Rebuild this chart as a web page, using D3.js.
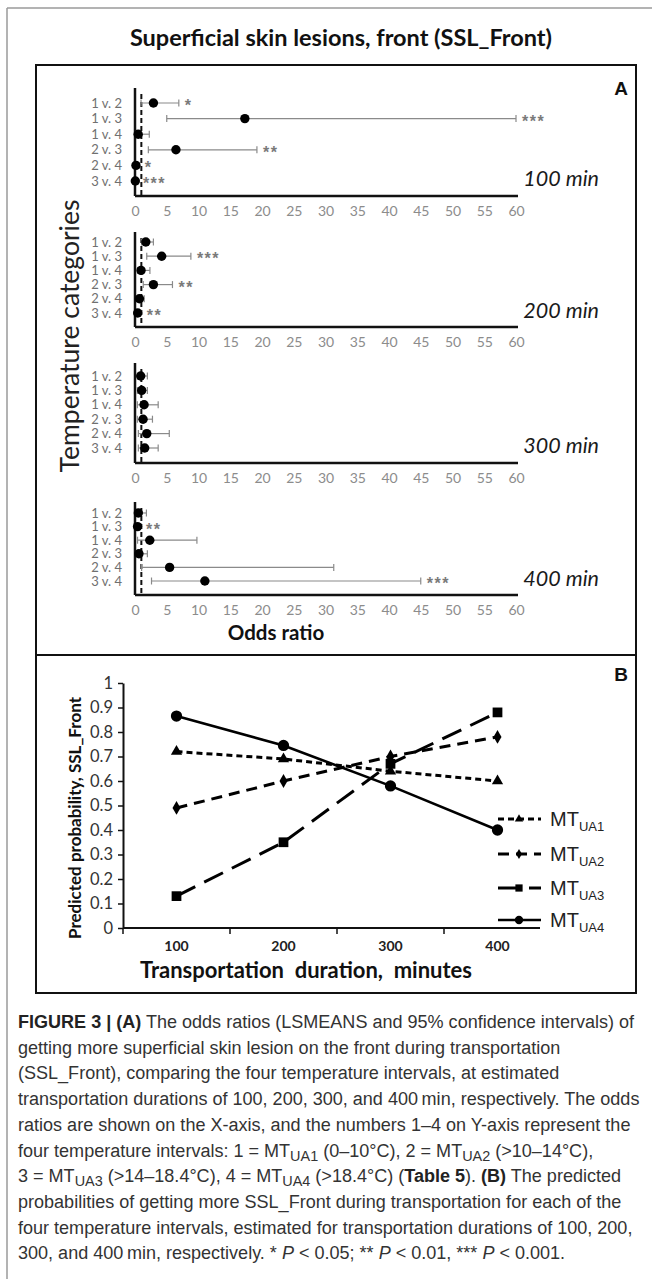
<!DOCTYPE html>
<html>
<head>
<meta charset="utf-8">
<script src="https://cdn.jsdelivr.net/npm/d3@7"></script>
<style>
  body { margin: 0; background: #fff; }
  svg { display: block; }
</style>
</head>
<body>
<div id="chart"></div>
<script>
// ---- panel A: odds ratios with 95% CI, per transportation duration ----
const comparisons = ['1 v. 2', '1 v. 3', '1 v. 4', '2 v. 3', '2 v. 4', '3 v. 4'];
const durations = ['100 min', '200 min', '300 min', '400 min'];
const oddsTicks = [0, 5, 10, 15, 20, 25, 30, 35, 40, 45, 50, 55, 60];

const or100  = [2.9, 17.3, 0.5, 6.45, 0.15, 0.05];
const lo100  = [0.95, 5.0, 0.15, 2.1, 0.05, 0.02];
const hi100  = [6.9, 60.0, 2.25, 19.2, 0.6, 0.3];
const sig100 = ['*', '***', '', '**', '*', '***'];

const or200  = [1.7, 4.2, 0.95, 2.9, 0.7, 0.42];
const lo200  = [1.05, 1.85, 0.4, 1.3, 0.25, 0.15];
const hi200  = [2.9, 8.8, 2.35, 5.9, 1.45, 0.9];
const sig200 = ['', '***', '', '**', '', '**'];

const or300  = [0.9, 1.05, 1.43, 1.27, 1.85, 1.53];
const lo300  = [0.37, 0.37, 0.37, 0.37, 0.53, 0.53];
const hi300  = [1.95, 1.95, 3.65, 2.75, 5.4, 3.65];
const sig300 = ['', '', '', '', '', ''];

const or400  = [0.52, 0.4, 2.33, 0.62, 5.45, 11.0];
const lo400  = [0.2, 0.1, 0.4, 0.25, 1.04, 2.6];
const hi400  = [1.8, 0.8, 9.75, 1.95, 31.3, 45.0];
const sig400 = ['', '**', '', '', '', '***'];

// ---- panel B: predicted probabilities ----
const minutes = ['100', '200', '300', '400'];
const probTicks = [0, 0.1, 0.2, 0.3, 0.4, 0.5, 0.6, 0.7, 0.8, 0.9, 1];
const seriesNames = ['UA1', 'UA2', 'UA3', 'UA4'];
const probUA1 = [0.72, 0.69, 0.64, 0.60];
const probUA2 = [0.49, 0.60, 0.70, 0.78];
const probUA3 = [0.13, 0.35, 0.67, 0.88];
const probUA4 = [0.865, 0.745, 0.58, 0.40];

const W = 652, H = 1279;
const CAL = "Lato, 'Open Sans', sans-serif";
const ARIAL = "'Liberation Sans', Arial, sans-serif";

const svg = d3.select('#chart').append('svg')
  .attr('width', W).attr('height', H);

// outer gray frame (top + left)
svg.append('line').attr('x1', 7).attr('x2', W).attr('y1', 8).attr('y2', 8)
  .attr('stroke', '#9a9a9a').attr('stroke-width', 1.5);
svg.append('line').attr('x1', 7).attr('x2', 7).attr('y1', 8).attr('y2', H)
  .attr('stroke', '#9a9a9a').attr('stroke-width', 1.5);

svg.append('text')
  .attr('x', 341).attr('y', 46)
  .attr('text-anchor', 'middle')
  .attr('font-family', CAL).attr('font-weight', 700).attr('font-size', 23.5)
  .attr('fill', '#111')
  .text('Superficial skin lesions, front (SSL_Front)');

// panel boxes
svg.append('rect').attr('x', 36).attr('y', 65).attr('width', 600).attr('height', 590)
  .attr('fill', 'none').attr('stroke', '#111').attr('stroke-width', 2);
svg.append('rect').attr('x', 36).attr('y', 655).attr('width', 600).attr('height', 338)
  .attr('fill', 'none').attr('stroke', '#111').attr('stroke-width', 2);

svg.append('text').attr('x', 628).attr('y', 95).attr('text-anchor', 'end')
  .attr('font-family', ARIAL).attr('font-weight', 700).attr('font-size', 19)
  .attr('fill', '#111').text('A');
svg.append('text').attr('x', 628).attr('y', 681).attr('text-anchor', 'end')
  .attr('font-family', ARIAL).attr('font-weight', 700).attr('font-size', 19)
  .attr('fill', '#111').text('B');

// ---------------- panel A ----------------
const x = d3.scaleLinear().domain([0, 60]).range([135, 516]);

const blocks = [
  { label: durations[0], or: or100, lo: lo100, hi: hi100, sig: sig100, top: 88,  r0: 103, r1: 181, bottom: 196 },
  { label: durations[1], or: or200, lo: lo200, hi: hi200, sig: sig200, top: 232, r0: 242, r1: 313, bottom: 327 },
  { label: durations[2], or: or300, lo: lo300, hi: hi300, sig: sig300, top: 363, r0: 376, r1: 448, bottom: 463 },
  { label: durations[3], or: or400, lo: lo400, hi: hi400, sig: sig400, top: 502, r0: 513, r1: 581, bottom: 595 },
];

blocks.forEach(b => {
  const y = d3.scalePoint().domain(comparisons).range([b.r0, b.r1]);
  const g = svg.append('g');

  // x axis: tick labels only, domain as the thick baseline
  const xa = g.append('g')
    .attr('transform', `translate(0,${b.bottom})`)
    .call(d3.axisBottom(x).tickValues(oddsTicks).tickSize(0).tickPadding(10));
  xa.select('.domain').attr('stroke', '#111').attr('stroke-width', 2.5)
    .attr('d', `M${x(0)},0H${x(60) + 2}`);
  xa.selectAll('text').attr('font-family', CAL).attr('font-size', 14).attr('fill', '#8c8c8c');

  // y axis: category labels
  const ya = g.append('g')
    .attr('transform', `translate(${x(0)},0)`)
    .call(d3.axisLeft(y).tickSize(0).tickPadding(13));
  ya.select('.domain').remove();
  ya.selectAll('text').attr('font-family', CAL).attr('font-size', 13).attr('fill', '#707070');
  g.append('line').attr('x1', x(0)).attr('x2', x(0)).attr('y1', b.top).attr('y2', b.bottom)
    .attr('stroke', '#111').attr('stroke-width', 2.5);

  // reference line at OR = 1
  g.append('line').attr('x1', x(1)).attr('x2', x(1)).attr('y1', b.top + 6).attr('y2', b.bottom)
    .attr('stroke', '#111').attr('stroke-width', 2).attr('stroke-dasharray', '5,3');

  const rows = comparisons.map((c, i) => ({ c, or: b.or[i], lo: b.lo[i], hi: b.hi[i], sig: b.sig[i] }));

  g.selectAll('.ci').data(rows).join('line')
    .attr('x1', d => x(d.lo)).attr('x2', d => x(d.hi))
    .attr('y1', d => y(d.c)).attr('y2', d => y(d.c))
    .attr('stroke', '#8a8a8a').attr('stroke-width', 1.2);
  ['lo', 'hi'].forEach(k => {
    g.selectAll('.cap-' + k).data(rows).join('line')
      .attr('x1', d => x(d[k])).attr('x2', d => x(d[k]))
      .attr('y1', d => y(d.c) - 3.5).attr('y2', d => y(d.c) + 3.5)
      .attr('stroke', '#8a8a8a').attr('stroke-width', 1.2);
  });
  g.selectAll('.pt').data(rows).join('circle')
    .attr('cx', d => x(d.or)).attr('cy', d => y(d.c)).attr('r', 4.7)
    .attr('fill', '#000');
  g.selectAll('.sig').data(rows).join('text')
    .attr('x', d => x(d.hi) + 6).attr('y', d => y(d.c) + 8)
    .attr('font-family', ARIAL).attr('font-weight', 700).attr('font-size', 16)
    .attr('letter-spacing', 1.5).attr('fill', '#7a7a7a')
    .text(d => d.sig);

  g.append('text').attr('x', 599).attr('y', b.r1 + 5).attr('text-anchor', 'end')
    .attr('font-family', CAL).attr('font-style', 'italic').attr('font-size', 21.5)
    .attr('fill', '#1a1a1a').text(b.label);
});

svg.append('text')
  .attr('transform', 'translate(79,336) rotate(-90)')
  .attr('text-anchor', 'middle')
  .attr('font-family', CAL).attr('font-size', 26.5).attr('fill', '#222')
  .text('Temperature categories');

svg.append('text').attr('x', 276).attr('y', 640).attr('text-anchor', 'middle')
  .attr('font-family', CAL).attr('font-weight', 700).attr('font-size', 20.5)
  .attr('fill', '#111').text('Odds ratio');

// ---------------- panel B ----------------
const xb = d3.scaleBand().domain(minutes).range([123, 551]);
const yb = d3.scaleLinear().domain([0, 1]).range([928, 683]);

const gy = svg.append('g').attr('transform', 'translate(123,0)')
  .call(d3.axisLeft(yb).tickValues(probTicks).tickSize(5).tickSizeOuter(0).tickPadding(5)
    .tickFormat(d3.format('.1~f')));
gy.select('.domain').attr('stroke', '#111').attr('stroke-width', 2);
gy.selectAll('.tick line').attr('stroke', '#111').attr('stroke-width', 1.5);
gy.selectAll('text').attr('font-family', CAL).attr('font-size', 16.5).attr('fill', '#333');

const gx = svg.append('g').attr('transform', 'translate(0,928)')
  .call(d3.axisBottom(xb).tickSize(0).tickPadding(13));
gx.select('.domain').remove();
gx.selectAll('text').attr('font-family', CAL).attr('font-weight', 700)
  .attr('font-size', 14).attr('fill', '#222');
svg.append('line').attr('x1', 123).attr('x2', 540).attr('y1', 928).attr('y2', 928)
  .attr('stroke', '#111').attr('stroke-width', 2);
svg.selectAll('.bt').data(minutes).join('line')
  .attr('x1', d => xb(d)).attr('x2', d => xb(d))
  .attr('y1', 928).attr('y2', 934)
  .attr('stroke', '#111').attr('stroke-width', 1.5);

svg.append('text')
  .attr('transform', 'translate(81,818) rotate(-90)')
  .attr('text-anchor', 'middle')
  .attr('font-family', CAL).attr('font-weight', 700).attr('font-size', 17)
  .attr('fill', '#111').text('Predicted probability, SSL_Front');

svg.append('text').attr('x', 306).attr('y', 978).attr('text-anchor', 'middle')
  .attr('font-family', CAL).attr('font-weight', 700).attr('font-size', 22)
  .attr('fill', '#111').attr('xml:space', 'preserve')
  .text('Transportation  duration,  minutes');

const series = [
  { name: seriesNames[0], values: probUA1, dash: '6,4',   width: 3,   symbol: d3.symbolTriangle, size: 55 },
  { name: seriesNames[1], values: probUA2, dash: '11,7',  width: 3,   symbol: d3.symbolDiamond,  size: 55 },
  { name: seriesNames[2], values: probUA3, dash: '21,10', width: 3,   symbol: d3.symbolSquare,   size: 95 },
  { name: seriesNames[3], values: probUA4, dash: null,    width: 2.6, symbol: d3.symbolCircle,   size: 100 },
];

const line = d3.line()
  .x((d, i) => xb(minutes[i]) + xb.bandwidth() / 2)
  .y(d => yb(d));

series.forEach(s => {
  svg.append('path').datum(s.values)
    .attr('d', line)
    .attr('fill', 'none').attr('stroke', '#000')
    .attr('stroke-width', s.width)
    .attr('stroke-dasharray', s.dash);
  svg.selectAll(null).data(s.values).join('path')
    .attr('transform', (d, i) => `translate(${xb(minutes[i]) + xb.bandwidth() / 2},${yb(d)})`)
    .attr('d', d3.symbol(s.symbol, s.size))
    .attr('fill', '#000');
});

// legend
const legendY = [819, 854, 888, 920];
series.forEach((s, i) => {
  const ly = legendY[i];
  svg.append('line').attr('x1', 498).attr('x2', 541).attr('y1', ly).attr('y2', ly)
    .attr('stroke', '#000').attr('stroke-width', s.width)
    .attr('stroke-dasharray', s.dash);
  svg.append('path').attr('transform', `translate(519,${ly})`)
    .attr('d', d3.symbol(s.symbol, s.size * 0.55)).attr('fill', '#000');
  const t = svg.append('text').attr('x', 550).attr('y', ly + 7)
    .attr('font-family', ARIAL).attr('font-size', 20).attr('fill', '#222');
  t.append('tspan').text('MT');
  t.append('tspan').attr('dy', 5).attr('font-size', 13).text(s.name);
});

// ---------------- caption ----------------
const captionLines = [
  [['FIGURE 3 | (A)', 'b'], [' The odds ratios (LSMEANS and 95% confidence intervals) of']],
  [['getting more superficial skin lesion on the front during transportation']],
  [['(SSL_Front), comparing the four temperature intervals, at estimated']],
  [['transportation durations of 100, 200, 300, and 400\u2009min, respectively. The odds']],
  [['ratios are shown on the X-axis, and the numbers 1\u20134 on Y-axis represent the']],
  [['four temperature intervals: 1 = MT'], ['UA1', 'sub'], [' (0\u201310\u00b0C), 2 = MT'], ['UA2', 'sub'], [' (>10\u201314\u00b0C),']],
  [['3 = MT'], ['UA3', 'sub'], [' (>14\u201318.4\u00b0C), 4 = MT'], ['UA4', 'sub'], [' (>18.4\u00b0C) ('], ['Table 5', 'b'], ['). '], ['(B)', 'b'], [' The predicted']],
  [['probabilities of getting more SSL_Front during transportation for each of the']],
  [['four temperature intervals, estimated for transportation durations of 100, 200,']],
  [['300, and 400\u2009min, respectively. * '], ['P', 'i'], [' < 0.05; ** '], ['P', 'i'], [' < 0.01, *** '], ['P', 'i'], [' < 0.001.']],
];

const cap = svg.append('g')
  .attr('font-family', ARIAL).attr('font-size', 16).attr('fill', '#333');
const capNodes = captionLines.map((segs, li) => {
  const t = cap.append('text').attr('x', 18).attr('y', 1028 + li * 25.7)
    .attr('xml:space', 'preserve');
  let shifted = false;
  segs.forEach(([txt, st]) => {
    const sp = t.append('tspan').text(txt);
    if (st === 'b') sp.attr('font-weight', 700).attr('fill', '#222');
    if (st === 'i') sp.attr('font-style', 'italic');
    if (st === 'sub') { sp.attr('dy', 4).attr('font-size', '0.8em'); shifted = true; }
    else if (shifted) { sp.attr('dy', -4); shifted = false; }
  });
  return t;
});
// fit the font size so the widest lines span the column like the reference
const w4 = capNodes[3].node().getComputedTextLength();
cap.attr('font-size', 16 * 622 / w4);
</script>
</body>
</html>
